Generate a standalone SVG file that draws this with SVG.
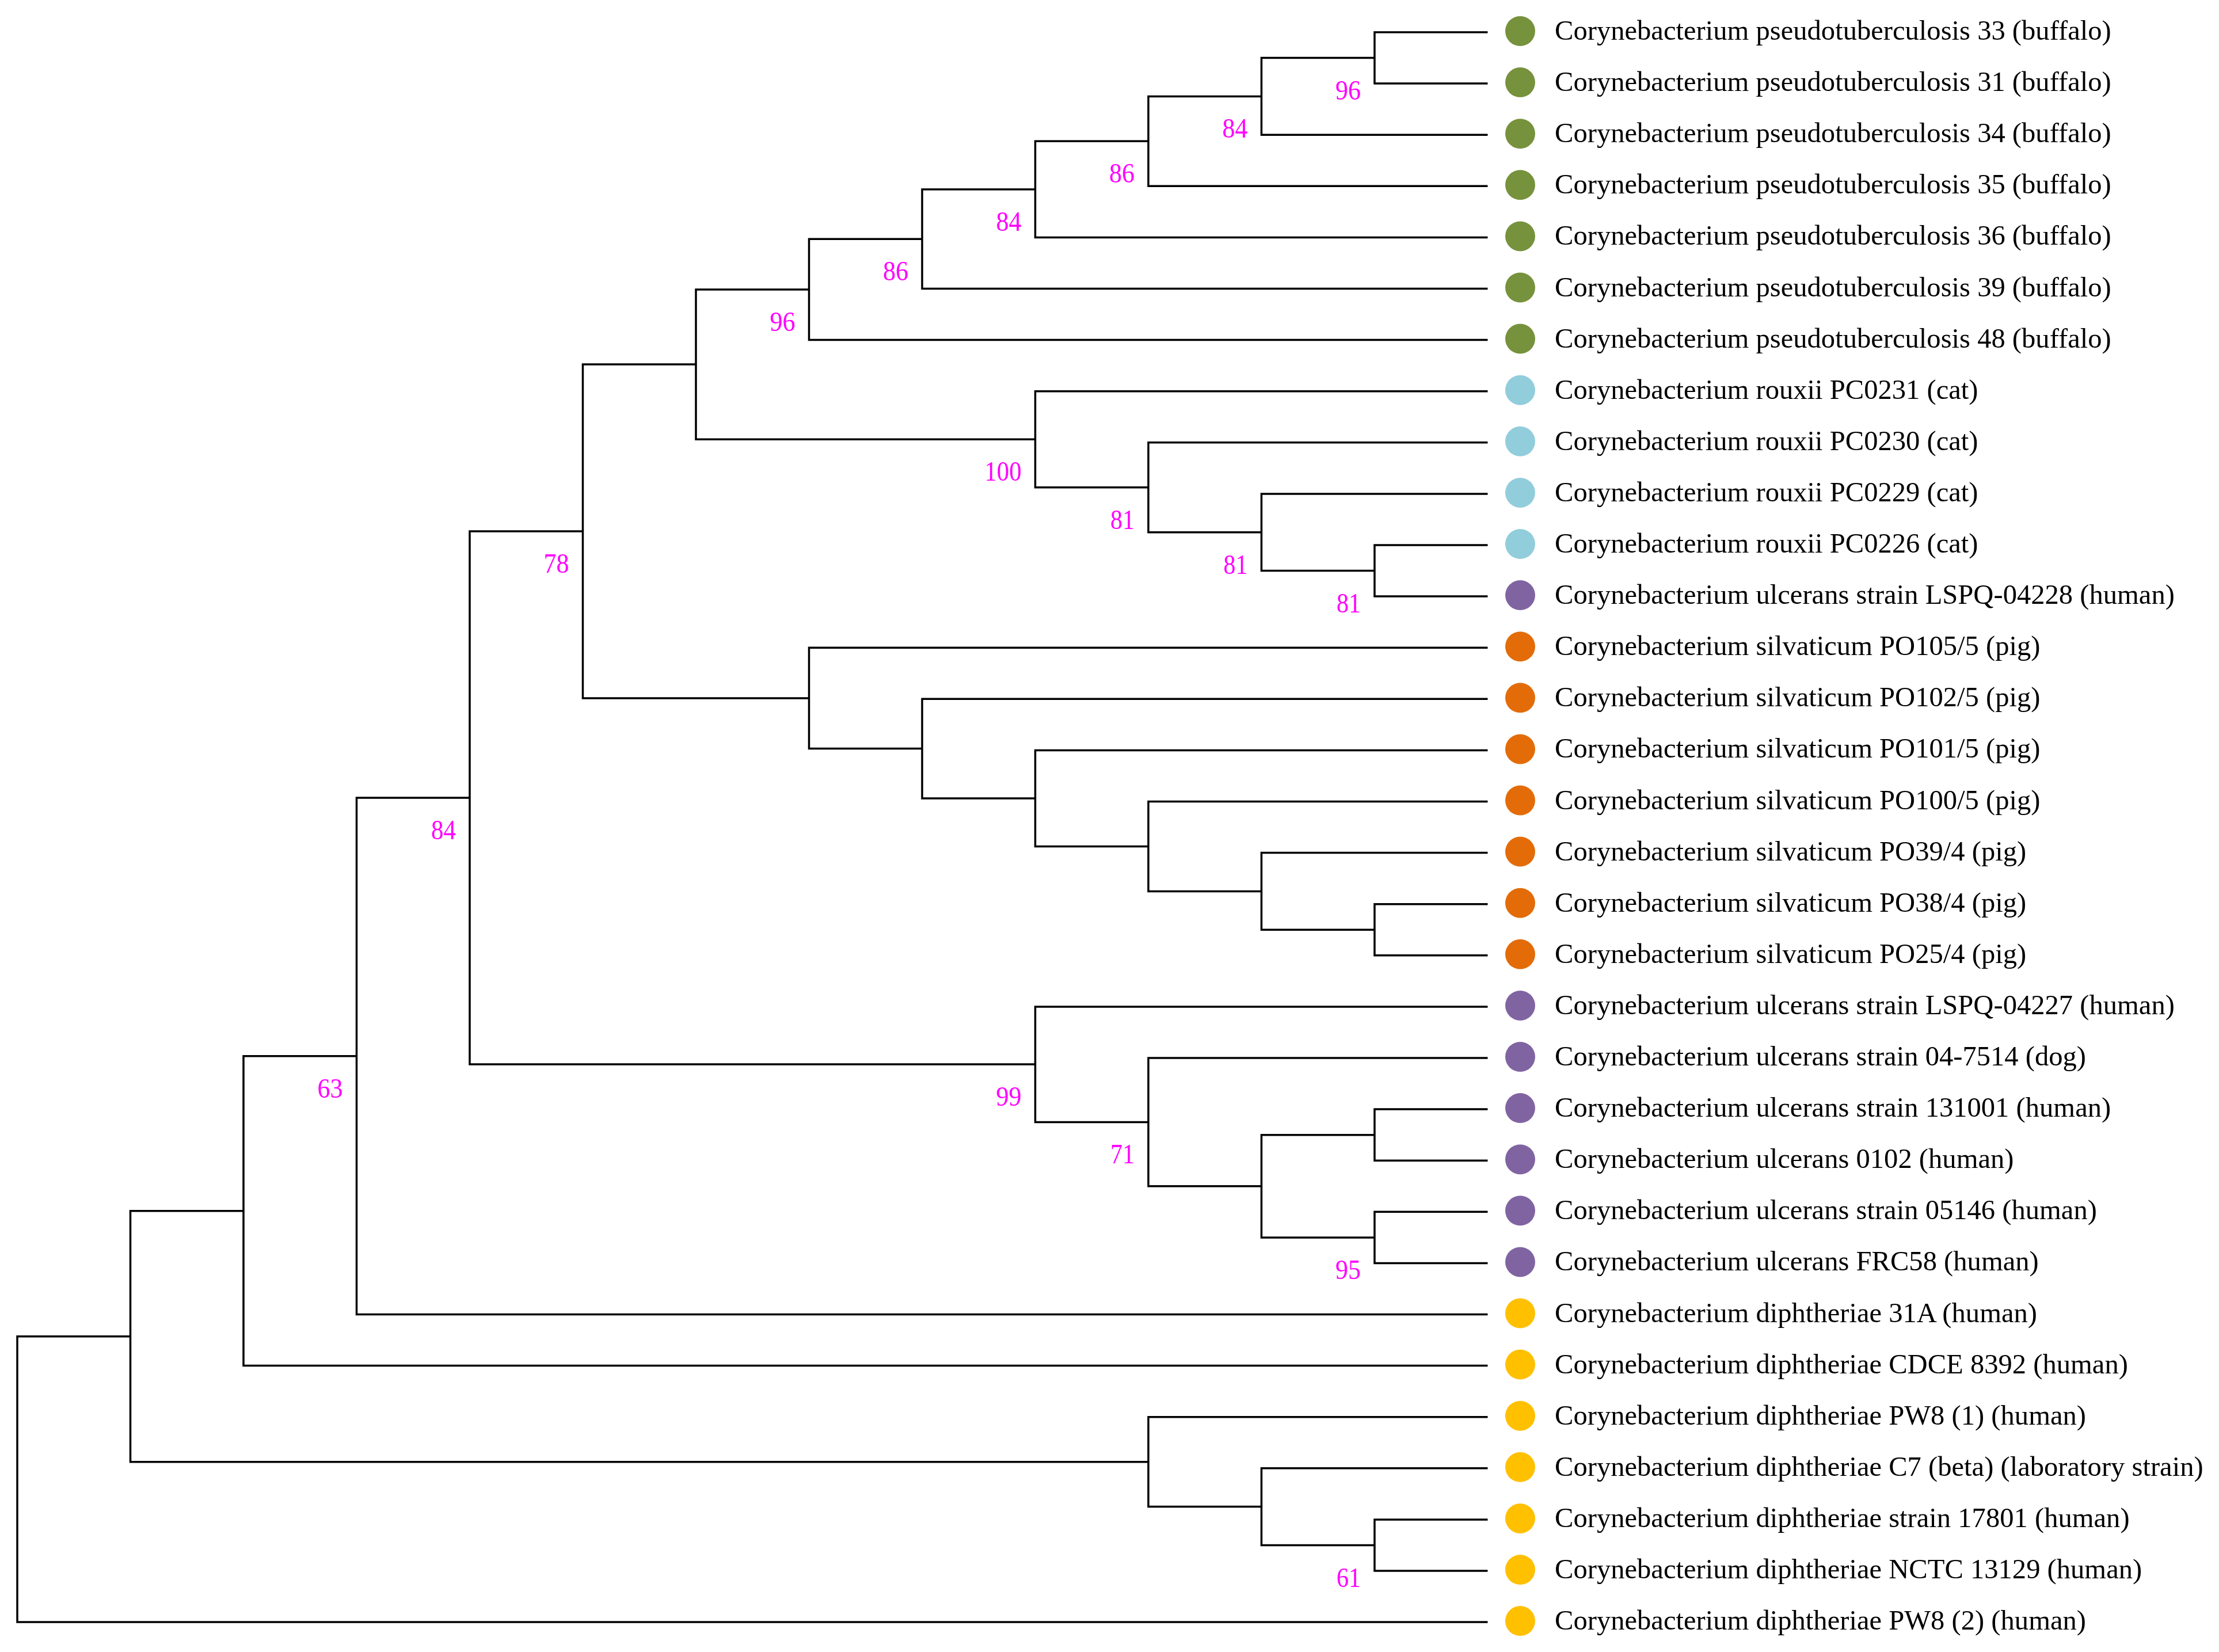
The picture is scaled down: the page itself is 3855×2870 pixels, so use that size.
<svg xmlns="http://www.w3.org/2000/svg" width="3855" height="2870" viewBox="0 0 3855 2870">
<style>
.e{fill:none;stroke:#000;stroke-width:3.5;stroke-linejoin:miter}
.t{font-family:"Liberation Serif","Times New Roman",serif;font-size:48.6px;fill:#000}
.b{font-family:"Liberation Serif","Times New Roman",serif;font-size:49px;fill:#FF00FF;text-anchor:end}
.g{fill:#76923C}.c{fill:#92CDDC}.p{fill:#8064A2}.o{fill:#E36C09}.y{fill:#FFC000}
</style>
<rect width="3855" height="2870" fill="#fff"/>
<g id="connectors">
<path class="e" d="M2584.5,56 H2388 V145.1 H2584.5"/>
<path class="e" d="M2388,100.55 H2191.5 V234.2 H2584.5"/>
<path class="e" d="M2191.5,167.4 H1995 V323.3 H2584.5"/>
<path class="e" d="M1995,245.3 H1798.5 V412.4 H2584.5"/>
<path class="e" d="M1798.5,328.9 H1602 V501.5 H2584.5"/>
<path class="e" d="M1602,415.2 H1405.5 V590.6 H2584.5"/>
<path class="e" d="M2584.5,947 H2388 V1036.1 H2584.5"/>
<path class="e" d="M2584.5,857.9 H2191.5 V991.6 H2388"/>
<path class="e" d="M2584.5,768.8 H1995 V924.7 H2191.5"/>
<path class="e" d="M2584.5,679.7 H1798.5 V846.8 H1995"/>
<path class="e" d="M1405.5,502.9 H1209 V763.2 H1798.5"/>
<path class="e" d="M2584.5,1570.7 H2388 V1659.8 H2584.5"/>
<path class="e" d="M2584.5,1481.6 H2191.5 V1615.3 H2388"/>
<path class="e" d="M2584.5,1392.5 H1995 V1548.4 H2191.5"/>
<path class="e" d="M2584.5,1303.4 H1798.5 V1470.5 H1995"/>
<path class="e" d="M2584.5,1214.3 H1602 V1386.9 H1798.5"/>
<path class="e" d="M2584.5,1125.2 H1405.5 V1300.6 H1602"/>
<path class="e" d="M1209,633.1 H1012.5 V1212.9 H1405.5"/>
<path class="e" d="M2584.5,1927.1 H2388 V2016.2 H2584.5"/>
<path class="e" d="M2584.5,2105.3 H2388 V2194.4 H2584.5"/>
<path class="e" d="M2388,1971.7 H2191.5 V2149.9 H2388"/>
<path class="e" d="M2584.5,1838 H1995 V2060.8 H2191.5"/>
<path class="e" d="M2584.5,1748.9 H1798.5 V1949.4 H1995"/>
<path class="e" d="M1012.5,923 H816 V1849.1 H1798.5"/>
<path class="e" d="M816,1386.1 H619.5 V2283.5 H2584.5"/>
<path class="e" d="M619.5,1834.8 H423 V2372.6 H2584.5"/>
<path class="e" d="M2584.5,2639.9 H2388 V2729 H2584.5"/>
<path class="e" d="M2584.5,2550.8 H2191.5 V2684.5 H2388"/>
<path class="e" d="M2584.5,2461.7 H1995 V2617.6 H2191.5"/>
<path class="e" d="M423,2103.7 H226.5 V2539.7 H1995"/>
<path class="e" d="M226.5,2321.7 H30 V2818.1 H2584.5"/>
</g>
<g id="support">
<text class="b" x="2364" y="172.5" textLength="44" lengthAdjust="spacingAndGlyphs">96</text>
<text class="b" x="2167.5" y="239.4" textLength="44" lengthAdjust="spacingAndGlyphs">84</text>
<text class="b" x="1971" y="317.3" textLength="44" lengthAdjust="spacingAndGlyphs">86</text>
<text class="b" x="1774.5" y="400.9" textLength="44" lengthAdjust="spacingAndGlyphs">84</text>
<text class="b" x="1578" y="487.2" textLength="44" lengthAdjust="spacingAndGlyphs">86</text>
<text class="b" x="1381.5" y="574.9" textLength="44" lengthAdjust="spacingAndGlyphs">96</text>
<text class="b" x="1774.5" y="835.2" textLength="64" lengthAdjust="spacingAndGlyphs">100</text>
<text class="b" x="1971" y="918.8" textLength="42" lengthAdjust="spacingAndGlyphs">81</text>
<text class="b" x="2167.5" y="996.7" textLength="42" lengthAdjust="spacingAndGlyphs">81</text>
<text class="b" x="2364" y="1063.6" textLength="42" lengthAdjust="spacingAndGlyphs">81</text>
<text class="b" x="988.5" y="995" textLength="44" lengthAdjust="spacingAndGlyphs">78</text>
<text class="b" x="792" y="1458.1" textLength="43" lengthAdjust="spacingAndGlyphs">84</text>
<text class="b" x="595.5" y="1906.8" textLength="44" lengthAdjust="spacingAndGlyphs">63</text>
<text class="b" x="1774.5" y="1921.1" textLength="44" lengthAdjust="spacingAndGlyphs">99</text>
<text class="b" x="1971" y="2021.4" textLength="42" lengthAdjust="spacingAndGlyphs">71</text>
<text class="b" x="2364" y="2221.9" textLength="44" lengthAdjust="spacingAndGlyphs">95</text>
<text class="b" x="2364" y="2756.5" textLength="42" lengthAdjust="spacingAndGlyphs">61</text>
</g>
<g id="leaf0"><circle class="g" cx="2641" cy="54" r="26"/><text class="t" x="2701" y="69">Corynebacterium pseudotuberculosis 33 (buffalo)</text></g>
<g id="leaf1"><circle class="g" cx="2641" cy="143.1" r="26"/><text class="t" x="2701" y="158.1">Corynebacterium pseudotuberculosis 31 (buffalo)</text></g>
<g id="leaf2"><circle class="g" cx="2641" cy="232.2" r="26"/><text class="t" x="2701" y="247.2">Corynebacterium pseudotuberculosis 34 (buffalo)</text></g>
<g id="leaf3"><circle class="g" cx="2641" cy="321.3" r="26"/><text class="t" x="2701" y="336.3">Corynebacterium pseudotuberculosis 35 (buffalo)</text></g>
<g id="leaf4"><circle class="g" cx="2641" cy="410.4" r="26"/><text class="t" x="2701" y="425.4">Corynebacterium pseudotuberculosis 36 (buffalo)</text></g>
<g id="leaf5"><circle class="g" cx="2641" cy="499.5" r="26"/><text class="t" x="2701" y="514.5">Corynebacterium pseudotuberculosis 39 (buffalo)</text></g>
<g id="leaf6"><circle class="g" cx="2641" cy="588.6" r="26"/><text class="t" x="2701" y="603.6">Corynebacterium pseudotuberculosis 48 (buffalo)</text></g>
<g id="leaf7"><circle class="c" cx="2641" cy="677.7" r="26"/><text class="t" x="2701" y="692.7">Corynebacterium rouxii PC0231 (cat)</text></g>
<g id="leaf8"><circle class="c" cx="2641" cy="766.8" r="26"/><text class="t" x="2701" y="781.8">Corynebacterium rouxii PC0230 (cat)</text></g>
<g id="leaf9"><circle class="c" cx="2641" cy="855.9" r="26"/><text class="t" x="2701" y="870.9">Corynebacterium rouxii PC0229 (cat)</text></g>
<g id="leaf10"><circle class="c" cx="2641" cy="945" r="26"/><text class="t" x="2701" y="960">Corynebacterium rouxii PC0226 (cat)</text></g>
<g id="leaf11"><circle class="p" cx="2641" cy="1034.1" r="26"/><text class="t" x="2701" y="1049.1">Corynebacterium ulcerans strain LSPQ-04228 (human)</text></g>
<g id="leaf12"><circle class="o" cx="2641" cy="1123.2" r="26"/><text class="t" x="2701" y="1138.2">Corynebacterium silvaticum PO105/5 (pig)</text></g>
<g id="leaf13"><circle class="o" cx="2641" cy="1212.3" r="26"/><text class="t" x="2701" y="1227.3">Corynebacterium silvaticum PO102/5 (pig)</text></g>
<g id="leaf14"><circle class="o" cx="2641" cy="1301.4" r="26"/><text class="t" x="2701" y="1316.4">Corynebacterium silvaticum PO101/5 (pig)</text></g>
<g id="leaf15"><circle class="o" cx="2641" cy="1390.5" r="26"/><text class="t" x="2701" y="1405.5">Corynebacterium silvaticum PO100/5 (pig)</text></g>
<g id="leaf16"><circle class="o" cx="2641" cy="1479.6" r="26"/><text class="t" x="2701" y="1494.6">Corynebacterium silvaticum PO39/4 (pig)</text></g>
<g id="leaf17"><circle class="o" cx="2641" cy="1568.7" r="26"/><text class="t" x="2701" y="1583.7">Corynebacterium silvaticum PO38/4 (pig)</text></g>
<g id="leaf18"><circle class="o" cx="2641" cy="1657.8" r="26"/><text class="t" x="2701" y="1672.8">Corynebacterium silvaticum PO25/4 (pig)</text></g>
<g id="leaf19"><circle class="p" cx="2641" cy="1746.9" r="26"/><text class="t" x="2701" y="1761.9">Corynebacterium ulcerans strain LSPQ-04227 (human)</text></g>
<g id="leaf20"><circle class="p" cx="2641" cy="1836" r="26"/><text class="t" x="2701" y="1851">Corynebacterium ulcerans strain 04-7514 (dog)</text></g>
<g id="leaf21"><circle class="p" cx="2641" cy="1925.1" r="26"/><text class="t" x="2701" y="1940.1">Corynebacterium ulcerans strain 131001 (human)</text></g>
<g id="leaf22"><circle class="p" cx="2641" cy="2014.2" r="26"/><text class="t" x="2701" y="2029.2">Corynebacterium ulcerans 0102 (human)</text></g>
<g id="leaf23"><circle class="p" cx="2641" cy="2103.3" r="26"/><text class="t" x="2701" y="2118.3">Corynebacterium ulcerans strain 05146 (human)</text></g>
<g id="leaf24"><circle class="p" cx="2641" cy="2192.4" r="26"/><text class="t" x="2701" y="2207.4">Corynebacterium ulcerans FRC58 (human)</text></g>
<g id="leaf25"><circle class="y" cx="2641" cy="2281.5" r="26"/><text class="t" x="2701" y="2296.5">Corynebacterium diphtheriae 31A (human)</text></g>
<g id="leaf26"><circle class="y" cx="2641" cy="2370.6" r="26"/><text class="t" x="2701" y="2385.6">Corynebacterium diphtheriae CDCE 8392 (human)</text></g>
<g id="leaf27"><circle class="y" cx="2641" cy="2459.7" r="26"/><text class="t" x="2701" y="2474.7">Corynebacterium diphtheriae PW8 (1) (human)</text></g>
<g id="leaf28"><circle class="y" cx="2641" cy="2548.8" r="26"/><text class="t" x="2701" y="2563.8">Corynebacterium diphtheriae C7 (beta) (laboratory strain)</text></g>
<g id="leaf29"><circle class="y" cx="2641" cy="2637.9" r="26"/><text class="t" x="2701" y="2652.9">Corynebacterium diphtheriae strain 17801 (human)</text></g>
<g id="leaf30"><circle class="y" cx="2641" cy="2727" r="26"/><text class="t" x="2701" y="2742">Corynebacterium diphtheriae NCTC 13129 (human)</text></g>
<g id="leaf31"><circle class="y" cx="2641" cy="2816.1" r="26"/><text class="t" x="2701" y="2831.1">Corynebacterium diphtheriae PW8 (2) (human)</text></g>
</svg>
